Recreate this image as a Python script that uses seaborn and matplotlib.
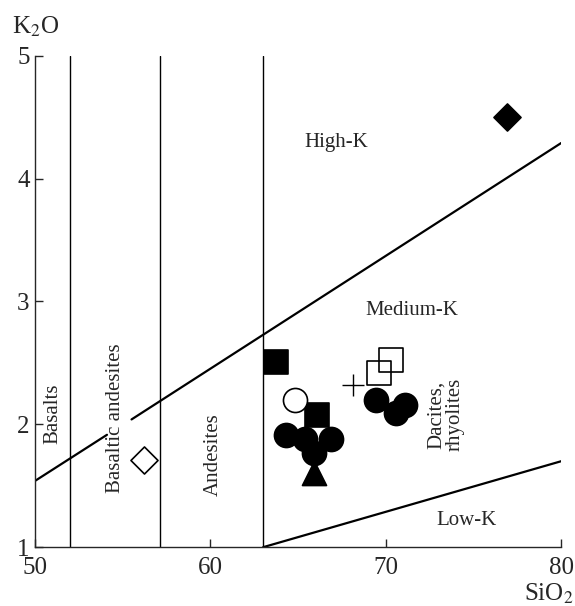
import pandas as pd
import seaborn as sns
import matplotlib.pyplot as plt

# sample points
circle_x = [64.3, 65.4, 66.9, 65.9, 69.45, 71.1, 70.6]
circle_y = [1.91, 1.88, 1.88, 1.77, 2.20, 2.16, 2.09]
square_x = [63.75, 66.1]
square_y = [2.51, 2.08]
open_square_x = [69.6, 70.3]
open_square_y = [2.42, 2.52]
open_circle_x = [64.8]
open_circle_y = [2.20]
triangle_x = [65.9]
triangle_y = [1.60]
plus_x = [68.1]
plus_y = [2.32]
diamond_x = [76.9]
diamond_y = [4.50]
open_diamond_x = [56.2]
open_diamond_y = [1.71]

# classification boundaries
divider_x = [52, 57.1, 63]
highk_x1 = [50, 54.1]
highk_y1 = [1.54, 1.915]
highk_x2 = [55.5, 80]
highk_y2 = [2.04, 4.29]
lowk_x = [63, 80]
lowk_y = [1.0, 1.70]

sns.set_style("ticks")
plt.rcParams['font.family'] = ['Liberation Serif', 'DejaVu Serif']

fig = plt.figure(figsize=(5.75, 6.06), dpi=100)
ax = fig.add_axes([0.061, 0.097, 0.915, 0.811])

groups = [
    (circle_x, circle_y, 'o', 'black', 'black'),
    (square_x, square_y, 's', 'black', 'black'),
    (open_square_x, open_square_y, 's', 'none', 'black'),
    (open_circle_x, open_circle_y, 'o', 'white', 'black'),
    (triangle_x, triangle_y, '^', 'black', 'black'),
    (diamond_x, diamond_y, 'D', 'black', 'black'),
    (open_diamond_x, open_diamond_y, 'D', 'white', 'black'),
]
for gx, gy, m, fc, ec in groups:
    df = pd.DataFrame({'x': gx, 'y': gy})
    size = 300 if m != 'D' else 190
    sns.scatterplot(data=df, x='x', y='y', marker=m, s=size, facecolor=fc,
                    edgecolor=ec, linewidth=1.2, ax=ax, zorder=3)

sns.scatterplot(x=plus_x, y=plus_y, marker='+', s=260, color='black',
                linewidth=1.0, ax=ax, zorder=3)

for dx in divider_x:
    ax.plot([dx, dx], [1, 5], color='black', lw=1.0)
ax.plot(highk_x1, highk_y1, color='black', lw=1.6)
ax.plot(highk_x2, highk_y2, color='black', lw=1.6)
ax.plot(lowk_x, lowk_y, color='black', lw=1.6)

ax.set_xlim(50, 80)
ax.set_ylim(1, 5)
ax.set_xticks([50, 60, 70, 80])
ax.set_yticks([1, 2, 3, 4, 5])
ax.tick_params(direction='in', length=6, width=1.0, labelsize=18)
ax.tick_params(axis='x', pad=7)
ax.tick_params(axis='y', pad=4)
ax.set_xlabel('')
ax.set_ylabel('')
sns.despine(ax=ax)
for sp in ['left', 'bottom']:
    ax.spines[sp].set_linewidth(1.0)

fs = 15
ax.text(67.2, 4.29, 'High-K', fontsize=fs, ha='center', va='center')
ax.text(71.5, 2.93, 'Medium-K', fontsize=fs, ha='center', va='center')
ax.text(74.6, 1.22, 'Low-K', fontsize=fs, ha='center', va='center')
ax.text(51.0, 2.09, 'Basalts', fontsize=fs, ha='center', va='center', rotation=90)
ax.text(54.6, 2.05, 'Basaltic andesites', fontsize=fs, ha='center', va='center', rotation=90)
ax.text(60.15, 1.75, 'Andesites', fontsize=fs, ha='center', va='center', rotation=90)
ax.text(73.4, 2.08, 'Dacites,\nrhyolites', fontsize=fs, ha='center', va='center',
        rotation=90, linespacing=0.95)

fig.text(0.02, 0.955, r'K$_2$O', fontsize=18, ha='left', va='center',
         math_fontfamily='stix')
fig.text(0.998, 0.0, r'SiO$_2$', fontsize=18, ha='right', va='bottom',
         math_fontfamily='stix')

fig.savefig('out.png', dpi=100)
